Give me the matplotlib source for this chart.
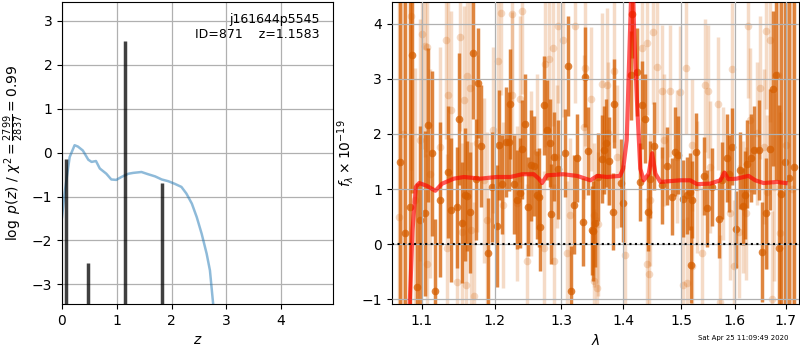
import matplotlib
matplotlib.use("Agg")
import matplotlib.pyplot as plt
from matplotlib.ticker import FixedLocator, NullLocator, FixedFormatter

# ---------------- left panel data ----------------
pz_z = [0.0, 0.04, 0.08, 0.14, 0.23, 0.29, 0.38, 0.48, 0.54, 0.62, 0.69, 0.81, 0.90,
        0.99, 1.09, 1.21, 1.30, 1.45, 1.57, 1.70, 1.82, 1.94, 2.06, 2.18, 2.27, 2.37,
        2.46, 2.55, 2.64, 2.70, 2.76, 2.85]
pz_logp = [-1.47, -1.0, -0.63, -0.10, 0.17, 0.14, 0.05, -0.16, -0.21, -0.19, -0.36, -0.48,
           -0.61, -0.62, -0.55, -0.48, -0.46, -0.44, -0.49, -0.54, -0.61, -0.65, -0.71,
           -0.78, -0.93, -1.16, -1.47, -1.85, -2.30, -2.68, -3.46, -4.5]
peak_z = [0.08, 0.47, 1.15, 1.82]
peak_val = [-0.15, -2.52, 2.55, -0.68]

# ---------------- right panel data ----------------
dark_wave = [1.0720, 1.0780, 1.0840, 1.0872, 1.0930, 1.0974, 1.1041, 1.1087, 1.1133, 1.1169,
             1.1238, 1.1348, 1.1395, 1.1468, 1.1499, 1.1546, 1.1578, 1.1615, 1.1651, 1.1692,
             1.1739, 1.1761, 1.1812, 1.1912, 1.1959, 1.2039, 1.2069, 1.2114, 1.2164, 1.2203,
             1.2229, 1.2278, 1.2329, 1.2368, 1.2404, 1.2442, 1.2487, 1.2538, 1.2577, 1.2628,
             1.2652, 1.2677, 1.2727, 1.2777, 1.2816, 1.2846, 1.2891, 1.2951, 1.3055, 1.3110,
             1.3153, 1.3190, 1.3245, 1.3335, 1.3368, 1.3423, 1.3487, 1.3503, 1.3540, 1.3577,
             1.3648, 1.3674, 1.3718, 1.3766, 1.3820, 1.3852, 1.3960, 1.3997, 1.4130, 1.4142,
             1.4229, 1.4274, 1.4316, 1.4373, 1.4413, 1.4460, 1.4517, 1.4663, 1.4750, 1.4837,
             1.4894, 1.4951, 1.5041, 1.5104, 1.5165, 1.5183, 1.5196, 1.5276, 1.5411, 1.5474,
             1.5567, 1.5689, 1.5752, 1.5856, 1.5893, 1.5937, 1.6012, 1.6097, 1.6150, 1.6196,
             1.6241, 1.6308, 1.6374, 1.6458, 1.6526, 1.6611, 1.6690, 1.6755, 1.6808, 1.6873,
             1.6901, 1.6980, 1.7060, 1.7180]
dark_flux = [1.5, 0.2, 0.68, 3.43, -0.78, 0.44, 0.56, 2.16, 1.65, -0.85,
             0.81, 1.31, 0.62, 0.67, 2.27, 0.39, 0.90, 0.88, 0.58, 3.47,
             1.18, 2.92, 1.78, -0.16, 1.04, 0.33, 1.80, 1.09, 1.86, 1.86,
             2.54, 1.09, 0.81, 0.93, 1.72, 2.18, 0.68, 1.43, 1.42, 0.89,
             0.85, 0.31, 2.52, 2.07, 1.83, 0.55, 1.59, 1.36, 1.66, 3.23,
             -0.84, 0.72, 1.56, 0.41, 3.03, 1.69, 0.25, 0.24, 0.39, 1.22,
             1.54, 1.71, 1.83, 1.51, 0.59, 2.55, 1.11, 0.74, 3.06, 4.18,
             3.12, 1.13, 2.53, 2.28, 0.58, 1.18, 1.78, 1.07, 1.42, 0.86,
             1.68, 1.62, 0.83, 0.89, 0.95, -0.37, 0.81, 1.68, 1.24, 0.65,
             1.04, 0.45, 1.16, 1.56, 1.28, 1.77, 0.27, 1.34, 0.69, 0.89,
             1.45, 1.56, 1.71, 1.71, -0.14, 0.56, 1.72, 2.82, 3.06, -0.07,
             0.92, 1.5, 1.2, 1.4]
dark_err = [6.0, 5.0, 3.8, 2.5, 1.9, 1.7, 1.5, 1.4, 1.5, 1.3,
            1.4, 1.2, 1.3, 1.1, 1.2, 1.1, 1.2, 1.0, 1.1, 1.2,
            1.1, 1.0, 1.1, 1.0, 1.0, 1.1, 1.0, 0.9, 1.0, 0.9,
            1.0, 0.9, 0.9, 1.0, 0.9, 0.9, 0.9, 1.0, 0.9, 0.8,
            0.9, 0.8, 0.9, 0.9, 0.8, 0.9, 0.8, 0.9, 0.8, 0.9,
            0.8, 0.9, 0.8, 0.8, 0.9, 0.8, 0.8, 0.9, 0.8, 0.8,
            0.8, 0.8, 0.8, 0.8, 0.7, 0.8, 0.8, 0.7, 0.8, 0.8,
            0.8, 0.7, 0.8, 0.8, 0.7, 0.7, 0.8, 0.7, 0.7, 0.7,
            0.8, 0.7, 0.7, 0.7, 0.7, 0.7, 0.7, 0.7, 0.7, 0.7,
            0.7, 0.7, 0.7, 0.8, 0.7, 0.7, 0.7, 0.7, 0.7, 0.8,
            0.8, 0.8, 0.8, 0.9, 0.9, 1.0, 1.1, 1.4, 1.9, 2.6,
            3.5, 6.0, 6.0, 6.0]

light_wave = [1.0700, 1.0760, 1.0864, 1.0908, 1.0974, 1.1004, 1.1041, 1.1065, 1.1073, 1.1110,
              1.1248, 1.1316, 1.1330, 1.1348, 1.1385, 1.1468, 1.1509, 1.1546, 1.1568, 1.1591,
              1.1605, 1.1651, 1.1660, 1.1715, 1.1752, 1.1843, 1.1890, 1.1981, 1.2054, 1.2094,
              1.2129, 1.2254, 1.2260, 1.2329, 1.2368, 1.2404, 1.2478, 1.2528, 1.2628, 1.2727,
              1.2741, 1.2801, 1.2876, 1.2885, 1.2927, 1.2951, 1.3027, 1.3082, 1.3136, 1.3216,
              1.3351, 1.3367, 1.3475, 1.3512, 1.3520, 1.3567, 1.3575, 1.3648, 1.3729, 1.3740,
              1.3852, 1.3890, 1.4026, 1.4316, 1.4403, 1.4410, 1.4431, 1.4460, 1.4500, 1.4576,
              1.4663, 1.4691, 1.4795, 1.4924, 1.4981, 1.5041, 1.5091, 1.5100, 1.5196, 1.5205,
              1.5289, 1.5381, 1.5430, 1.5493, 1.5535, 1.5670, 1.5707, 1.5781, 1.5906, 1.5937,
              1.5985, 1.6083, 1.6162, 1.6209, 1.6261, 1.6294, 1.6427, 1.6478, 1.6557, 1.6611,
              1.6620, 1.6690, 1.6735, 1.6765, 1.6854, 1.6887, 1.7010, 1.7120]
light_flux = [0.5, 2.0, 4.14, 0.80, 1.89, 3.82, 3.59, -0.36, 3.58, 1.28,
              1.77, 3.71, -0.07, 2.71, 2.43, -0.69, 3.75, 0.23, 2.62, -0.74,
              3.05, 2.83, 0.26, -0.93, 1.83, 1.16, 0.44, 2.07, 3.32, 4.20,
              0.71, 4.17, 2.71, 0.74, 2.63, 4.22, -0.31, 1.28, 1.68, -0.07,
              3.26, 3.35, 3.55, -0.30, 1.59, 3.96, 3.71, -0.16, 0.53, 3.96,
              2.13, 3.19, 2.63, -0.66, 0.53, -0.80, 0.37, 2.90, 2.88, 2.01,
              3.15, 1.59, -0.19, 3.56, 3.65, -0.36, -0.53, 0.80, 3.84, 3.21,
              2.77, 1.89, 2.78, 1.59, 2.76, -0.74, 3.20, -0.71, -0.39, 1.80,
              1.04, -0.16, 2.88, 2.77, 1.40, 2.55, -1.04, 1.28, 0.56, 3.18,
              -0.39, 0.23, 0.68, 0.56, 3.96, 2.25, 2.01, 2.84, 1.77, 3.86,
              0.95, 3.71, -0.99, 1.04, 3.06, 0.20, 1.8, 1.0]
light_err = [6.0, 5.0, 2.8, 2.4, 2.2, 2.1, 2.0, 2.0, 1.9, 1.9,
             1.8, 1.8, 1.7, 1.7, 1.8, 1.7, 1.7, 1.6, 1.7, 1.6,
             1.7, 1.6, 1.6, 1.7, 1.6, 1.5, 1.6, 1.5, 1.6, 1.5,
             1.5, 1.6, 1.5, 1.4, 1.5, 1.5, 1.4, 1.5, 1.4, 1.4,
             1.5, 1.4, 1.4, 1.4, 1.3, 1.4, 1.4, 1.3, 1.4, 1.4,
             1.3, 1.4, 1.3, 1.3, 1.3, 1.3, 1.3, 1.3, 1.4, 1.3,
             1.3, 1.3, 1.2, 1.3, 1.3, 1.2, 1.2, 1.2, 1.3, 1.2,
             1.2, 1.2, 1.2, 1.2, 1.2, 1.2, 1.2, 1.2, 1.2, 1.2,
             1.2, 1.2, 1.2, 1.2, 1.2, 1.2, 1.2, 1.2, 1.2, 1.2,
             1.2, 1.2, 1.2, 1.2, 1.3, 1.3, 1.3, 1.3, 1.4, 1.4,
             1.4, 1.5, 1.6, 1.7, 1.9, 2.2, 5.0, 6.0]

model_wave = [1.0800, 1.0842, 1.0878, 1.0921, 1.0965, 1.1065, 1.1179, 1.1271, 1.1431, 1.1568,
              1.1798, 1.2030, 1.2229, 1.2404, 1.2577, 1.2652, 1.2702, 1.2777, 1.3027, 1.3244,
              1.3459, 1.3567, 1.3729, 1.3943, 1.3997, 1.4056, 1.4113, 1.4150, 1.4182, 1.4229,
              1.4286, 1.4344, 1.4431, 1.4490, 1.4547, 1.4634, 1.4981, 1.5165, 1.5289, 1.5535,
              1.5720, 1.5800, 1.5874, 1.6032, 1.6261, 1.6393, 1.6557, 1.6822, 1.7000]
model_flux = [-2.5, -1.08, 0.26, 1.04, 1.11, 1.06, 0.97, 1.10, 1.19, 1.22,
              1.19, 1.22, 1.22, 1.27, 1.27, 1.19, 1.11, 1.25, 1.27, 1.24,
              1.16, 1.24, 1.22, 1.24, 1.37, 1.89, 3.9, 5.2, 3.82, 2.61,
              1.37, 1.16, 1.28, 1.65, 1.28, 1.13, 1.16, 1.16, 1.09, 1.10,
              1.16, 1.30, 1.18, 1.19, 1.24, 1.16, 1.11, 1.13, 1.11]

wave_ticks = [1.1, 1.2, 1.3, 1.4, 1.5, 1.6, 1.7]
wave_ticklabels = ['1.1', '1.2', '1.3', '1.4', '1.5', '1.6', '1.7']

G141 = (0.8353, 0.3686, 0.0)

fig = plt.figure(figsize=(8, 3.5), dpi=100)
ax1 = fig.add_axes([0.0775, 0.131, 0.339, 0.863])
ax2 = fig.add_axes([0.4896, 0.131, 0.5095, 0.863])

# ---- left ----
ax1.plot(pz_z, pz_logp, color='C0', alpha=0.5, lw=1.8)
ax1.vlines(peak_z, -10, peak_val, color='k', alpha=0.75, lw=2.5)
ax1.set_xlim(0, 4.95)
ax1.set_ylim(-3.45, 3.43)
ax1.set_yticks([-3, -2, -1, 0, 1, 2, 3])
ax1.set_xticks([0, 1, 2, 3, 4])
ax1.grid(True, color='#b0b0b0', lw=0.9)
ax1.set_xlabel(r'$z$')
ax1.set_ylabel(r'$\log\ p(z)$ / $\chi^2=\frac{2799}{2837}=0.99$')
ax1.text(0.95, 0.965, 'j161644p5545\nID=871    z=1.1583', ha='right', va='top',
         transform=ax1.transAxes, fontsize=9, linespacing=1.2)

# ---- right ----
ax2.errorbar(light_wave, light_flux, yerr=light_err, fmt='o', color=G141, alpha=0.22,
             ms=5.5, elinewidth=2.5, capsize=0, markeredgewidth=0, zorder=1)
ax2.errorbar(dark_wave, dark_flux, yerr=dark_err, fmt='o', color=G141, alpha=0.75,
             ms=5.5, elinewidth=2.5, capsize=0, markeredgewidth=0, zorder=2)
ax2.plot(model_wave, model_flux, color='r', alpha=0.65, lw=3, zorder=3)
ax2.axhline(0, color='k', ls=':', lw=1.5, zorder=4)
ax2.set_xscale('log')
ax2.set_xlim(1.061, 1.728)
ax2.set_ylim(-1.085, 4.39)
ax2.xaxis.set_major_locator(FixedLocator(wave_ticks))
ax2.xaxis.set_major_formatter(FixedFormatter(wave_ticklabels))
ax2.xaxis.set_minor_locator(NullLocator())
ax2.set_yticks([-1, 0, 1, 2, 3, 4])
ax2.set_axisbelow(False)
ax2.grid(True, color='#b0b0b0', lw=0.9, zorder=5)
ax2.set_xlabel(r'$\lambda$')
ax2.set_ylabel(r'$f_\lambda\times10^{-19}$')

fig.text(0.985, 0.025, 'Sat Apr 25 11:09:49 2020', ha='right', va='bottom', fontsize=5)

fig.savefig('out.png', dpi=100)
